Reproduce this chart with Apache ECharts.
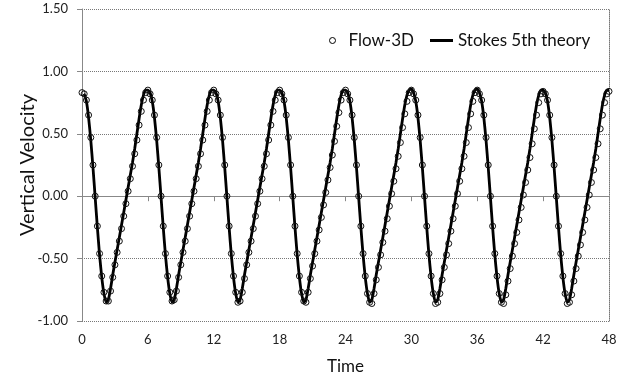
<!DOCTYPE html>
<html><head><meta charset="utf-8">
<script src="https://cdn.jsdelivr.net/npm/echarts@6/dist/echarts.min.js"></script>
<style>html,body{margin:0;padding:0;background:#fff}#c{width:624px;height:381px}</style>
</head><body><div id="c"></div>
<script>
// time step of the samples (s) and cycle length (s)
const sampleStep = 0.2;
const cycleLength = 6;
const xTicks = [0, 6, 12, 18, 24, 30, 36, 42, 48];
const yTicks = [-1.0, -0.5, 0.0, 0.5, 1.0, 1.5];

// Flow-3D vertical velocity, one array per 6 s cycle (samples every 0.2 s)
const flowC1 = [0.83,0.82,0.77,0.65,0.47,0.25,0.00,-0.24,-0.46,-0.64,-0.77,-0.84,-0.84,-0.76,-0.65,-0.55,-0.45,-0.36,-0.26,-0.16,-0.06,0.04,0.14,0.24,0.34,0.45,0.57,0.68,0.77,0.83];
const flowC2 = [0.85,0.82,0.77,0.65,0.47,0.25,0.00,-0.24,-0.46,-0.64,-0.77,-0.84,-0.83,-0.76,-0.65,-0.55,-0.45,-0.36,-0.26,-0.16,-0.06,0.04,0.14,0.24,0.34,0.45,0.57,0.68,0.77,0.83];
const flowC3 = [0.85,0.82,0.77,0.65,0.47,0.25,0.00,-0.24,-0.46,-0.64,-0.77,-0.85,-0.84,-0.77,-0.66,-0.55,-0.45,-0.36,-0.26,-0.16,-0.06,0.04,0.14,0.24,0.34,0.45,0.57,0.68,0.77,0.83];
const flowC4 = [0.85,0.82,0.77,0.65,0.47,0.25,0.00,-0.24,-0.46,-0.64,-0.77,-0.84,-0.85,-0.77,-0.66,-0.56,-0.46,-0.36,-0.27,-0.17,-0.07,0.03,0.13,0.23,0.33,0.44,0.56,0.67,0.77,0.83];
const flowC5 = [0.85,0.82,0.77,0.65,0.47,0.25,0.00,-0.24,-0.46,-0.64,-0.78,-0.85,-0.86,-0.78,-0.67,-0.57,-0.47,-0.37,-0.28,-0.18,-0.08,0.02,0.12,0.22,0.32,0.43,0.55,0.66,0.76,0.83];
const flowC6 = [0.85,0.82,0.77,0.65,0.47,0.25,0.00,-0.24,-0.46,-0.64,-0.78,-0.86,-0.85,-0.78,-0.67,-0.57,-0.47,-0.38,-0.28,-0.18,-0.08,0.02,0.12,0.22,0.32,0.43,0.55,0.66,0.76,0.83];
const flowC7 = [0.85,0.82,0.77,0.65,0.47,0.25,0.00,-0.24,-0.46,-0.64,-0.78,-0.85,-0.86,-0.79,-0.68,-0.58,-0.48,-0.38,-0.29,-0.19,-0.09,0.01,0.11,0.21,0.31,0.42,0.54,0.65,0.75,0.82];
const flowC8 = [0.84,0.82,0.77,0.65,0.47,0.25,0.00,-0.24,-0.46,-0.64,-0.78,-0.86,-0.85,-0.79,-0.68,-0.58,-0.48,-0.39,-0.29,-0.19,-0.09,0.01,0.11,0.21,0.31,0.42,0.54,0.65,0.75,0.82];
const flowEnd = 0.84;

// Stokes 5th order theory, one array per 6 s cycle (samples every 0.2 s)
const stokesC1 = [null,0.82,0.76,0.63,0.45,0.23,-0.01,-0.25,-0.47,-0.65,-0.78,-0.85,-0.83,-0.74,-0.63,-0.53,-0.43,-0.33,-0.23,-0.13,-0.03,0.07,0.17,0.27,0.38,0.50,0.62,0.73,0.81,0.85];
const stokesC2 = [0.85,0.83,0.76,0.63,0.45,0.23,-0.01,-0.25,-0.47,-0.65,-0.78,-0.85,-0.83,-0.74,-0.63,-0.53,-0.43,-0.33,-0.23,-0.13,-0.03,0.07,0.17,0.27,0.38,0.50,0.62,0.73,0.81,0.85];
const stokesC3 = [0.85,0.83,0.76,0.63,0.45,0.23,-0.01,-0.25,-0.47,-0.65,-0.78,-0.85,-0.83,-0.74,-0.63,-0.53,-0.43,-0.33,-0.23,-0.13,-0.03,0.07,0.17,0.27,0.38,0.50,0.62,0.73,0.81,0.85];
const stokesC4 = [0.85,0.83,0.76,0.63,0.45,0.23,-0.01,-0.25,-0.47,-0.65,-0.78,-0.85,-0.83,-0.74,-0.63,-0.53,-0.43,-0.33,-0.23,-0.13,-0.03,0.07,0.17,0.27,0.38,0.50,0.62,0.73,0.81,0.85];
const stokesC5 = [0.85,0.83,0.76,0.63,0.45,0.23,-0.01,-0.25,-0.47,-0.65,-0.78,-0.85,-0.83,-0.74,-0.63,-0.53,-0.43,-0.33,-0.23,-0.13,-0.03,0.07,0.17,0.27,0.38,0.50,0.62,0.73,0.81,0.85];
const stokesC6 = [0.86,0.83,0.76,0.63,0.45,0.23,-0.01,-0.25,-0.47,-0.65,-0.78,-0.85,-0.83,-0.74,-0.63,-0.53,-0.43,-0.33,-0.23,-0.13,-0.03,0.07,0.17,0.27,0.38,0.50,0.62,0.73,0.81,0.85];
const stokesC7 = [0.86,0.83,0.76,0.63,0.45,0.23,-0.01,-0.25,-0.47,-0.65,-0.78,-0.85,-0.83,-0.74,-0.63,-0.53,-0.43,-0.33,-0.23,-0.13,-0.03,0.07,0.17,0.27,0.38,0.50,0.62,0.73,0.81,0.85];
const stokesC8 = [0.85,0.83,0.76,0.63,0.45,0.23,-0.01,-0.25,-0.47,-0.65,-0.78,-0.85,-0.83,-0.74,-0.63,-0.53,-0.43,-0.33,-0.23,-0.13,-0.03,0.07,0.17,0.27,0.38,0.50,0.62,0.73,0.81,0.85];
const stokesEnd = 0.85;

function toPairs(cycles, endValue) {
  const out = [];
  cycles.forEach((arr, m) => {
    arr.forEach((v, i) => {
      if (v === null) return;
      out.push([+(m * cycleLength + i * sampleStep).toFixed(1), v]);
    });
  });
  out.push([cycles.length * cycleLength, endValue]);
  return out;
}
const flowData = toPairs([flowC1, flowC2, flowC3, flowC4, flowC5, flowC6, flowC7, flowC8], flowEnd);
const stokesData = toPairs([stokesC1, stokesC2, stokesC3, stokesC4, stokesC5, stokesC6, stokesC7, stokesC8], stokesEnd);

const font = 'Lato';
const chart = echarts.init(document.getElementById('c'), null, {renderer: 'canvas'});
chart.setOption({
  animation: false,
  backgroundColor: '#fff',
  grid: {left: 82, right: 15, top: 9, bottom: 60, containLabel: false},
  legend: [
    {data: [{name: 'Flow-3D', icon: 'circle', itemStyle: {color: 'rgba(0,0,0,0)', borderColor: '#000', borderWidth: 1}}],
     left: 324, top: 27, itemWidth: 22, itemHeight: 6,
     textStyle: {fontFamily: font, fontSize: 17, color: '#111'}},
    {data: [{name: 'Stokes 5th theory', icon: 'rect', itemStyle: {color: '#000', borderWidth: 0}}],
     left: 425, top: 27, itemWidth: 23, itemHeight: 3,
     textStyle: {fontFamily: font, fontSize: 17, color: '#111'}}
  ],
  xAxis: {
    type: 'value', min: xTicks[0], max: xTicks[xTicks.length - 1], interval: 6,
    name: 'Time', nameLocation: 'middle', nameGap: 37, nameMoveOverlap: false,
    nameTextStyle: {fontFamily: font, fontSize: 17, color: '#111'},
    axisLine: {lineStyle: {color: '#888', width: 1}},
    axisTick: {show: true, inside: false, length: 5, lineStyle: {color: '#888'}},
    axisLabel: {fontFamily: font, fontSize: 13, color: '#222', margin: 12},
    splitLine: {show: false}
  },
  yAxis: [{
    type: 'value', min: yTicks[0], max: yTicks[yTicks.length - 1], interval: 0.5,
    name: 'Vertical Velocity', nameLocation: 'middle', nameGap: 44, nameMoveOverlap: false,
    nameTextStyle: {fontFamily: font, fontSize: 20, color: '#111'},
    axisLine: {show: true, lineStyle: {color: '#888', width: 1}},
    axisTick: {show: true, inside: false, length: 5, lineStyle: {color: '#888'}},
    axisLabel: {fontFamily: font, fontSize: 13, color: '#222', margin: 14, formatter: v => v.toFixed(2)},
    splitLine: {show: true, lineStyle: {color: '#777', type: [1, 1], width: 1}}
  }, {
    type: 'value', position: 'right', min: yTicks[0], max: yTicks[yTicks.length - 1], interval: 0.5,
    axisLine: {show: true, lineStyle: {color: '#777', type: [1, 1], width: 1}},
    axisTick: {show: false}, axisLabel: {show: false}, splitLine: {show: false}
  }],
  series: [
    {name: 'Stokes 5th theory', type: 'line', data: stokesData, showSymbol: false, symbol: 'none',
     smooth: 0.2, lineStyle: {color: '#000', width: 2.8}, itemStyle: {color: '#000'}, z: 2},
    {name: 'Flow-3D', type: 'scatter', data: flowData, symbol: 'circle', symbolSize: 6,
     itemStyle: {color: 'rgba(0,0,0,0)', borderColor: '#111', borderWidth: 1, opacity: 1}, z: 3}
  ]
});
</script></body></html>
